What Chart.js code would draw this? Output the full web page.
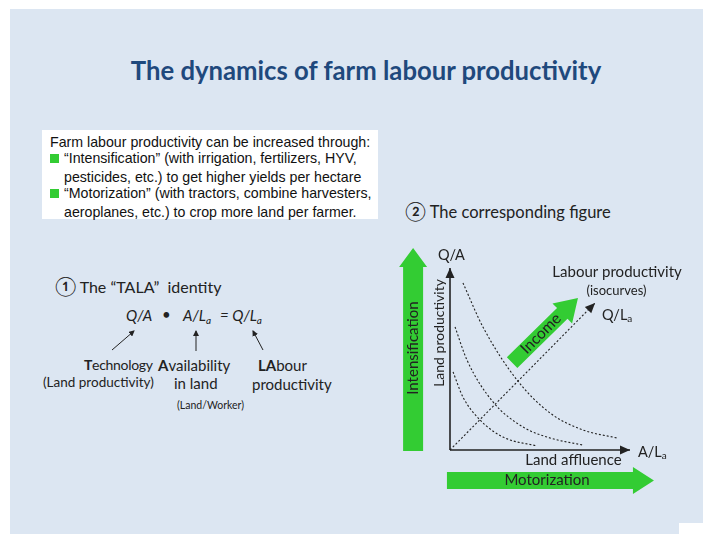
<!DOCTYPE html>
<html>
<head>
<meta charset="utf-8">
<script src="https://cdn.jsdelivr.net/npm/chart.js@4.4.1/dist/chart.umd.min.js"></script>
<style>
  body { margin: 0; width: 703px; height: 534px; position: relative; background: #fff; overflow: hidden; font-family: Lato, sans-serif; color: #222; }
  #slide { position: absolute; left: 10px; top: 9px; width: 693px; height: 525px; background: #dce6f2; }
  #notch { position: absolute; left: 679px; top: 523px; width: 24px; height: 11px; background: #fff; }
  .t { position: absolute; white-space: nowrap; }
  #title { left: 66px; width: 600px; top: 55px; text-align: center; font-size: 25.7px; line-height: 30px; font-weight: bold; color: #1f497d; }
  #box { position: absolute; left: 42px; top: 130px; width: 336px; height: 89px; background: #fff; font-family: "Liberation Sans", Arial, sans-serif; font-size: 14.2px; color: #111; }
  #box .t { line-height: 16px; }
  .sq { position: absolute; width: 9px; height: 9px; background: #33cc33; }
  .tala { font-size: 15px; line-height: 18px; }
  .small { font-size: 11px; line-height: 14px; }
  .f { font-style: italic; font-size: 15px; line-height: 18px; }
  sub { font-size: 10px; vertical-align: -3px; line-height: 0; }
  #wrap { position: absolute; left: 385px; top: 240px; width: 318px; height: 265px; }
  #marks { position: absolute; left: 0; top: 0; }
</style>
</head>
<body>
<div id="slide"></div>
<div id="notch"></div>
<div class="t" id="title">The dynamics of farm labour productivity</div>

<div id="box">
  <div class="t" style="left:8px;top:4px">Farm labour productivity can be increased through:</div>
  <div class="sq" style="left:8px;top:24px"></div>
  <div class="t" style="left:22px;top:20px">“Intensification” (with irrigation, fertilizers, HYV,</div>
  <div class="t" style="left:22px;top:39px">pesticides, etc.) to get higher yields per hectare</div>
  <div class="sq" style="left:8px;top:59px"></div>
  <div class="t" style="left:22px;top:55px">“Motorization” (with tractors, combine harvesters,</div>
  <div class="t" style="left:22px;top:74px">aeroplanes, etc.) to crop more land per farmer.</div>
</div>

<div class="t tala" style="left:55px;top:277px;font-size:16px"><span style="font-size:19px">①</span> The “TALA”&nbsp; identity</div>
<div class="t f" style="left:126px;top:306px">Q/A</div>
<div class="t f" style="left:162px;top:305px;font-style:normal">•</div>
<div class="t f" style="left:183px;top:306px">A/L<sub>a</sub></div>
<div class="t f" style="left:220px;top:306px">= Q/L<sub>a</sub></div>
<svg class="t" style="left:0;top:0" width="400" height="420">
  <defs>
    <marker id="ah" markerWidth="6" markerHeight="6" refX="5" refY="3" orient="auto">
      <path d="M0,0 L6,3 L0,6 Z" fill="#222"/>
    </marker>
  </defs>
  <line x1="112" y1="350" x2="134" y2="331" stroke="#222" stroke-width="1" marker-end="url(#ah)"/>
  <line x1="196" y1="351" x2="196" y2="331" stroke="#222" stroke-width="1" marker-end="url(#ah)"/>
  <line x1="263" y1="350" x2="253" y2="331" stroke="#222" stroke-width="1" marker-end="url(#ah)"/>
</svg>
<div class="t tala" style="left:84px;top:356px;font-size:14px;letter-spacing:-0.3px"><b>T</b>echnology</div>
<div class="t tala" style="left:158px;top:356px"><b>A</b>vailability</div>
<div class="t tala" style="left:258px;top:356px"><b>LA</b>bour</div>
<div class="t small" style="left:43px;top:375px;font-size:13.5px">(Land productivity)</div>
<div class="t tala" style="left:174px;top:374px">in land</div>
<div class="t tala" style="left:252px;top:375px">productivity</div>
<div class="t small" style="left:177px;top:398px;font-size:10.5px">(Land/Worker)</div>

<div class="t tala" style="left:405px;top:202px;font-size:16.5px"><span style="font-size:19px">②</span> The corresponding figure</div>

<div id="wrap"><canvas id="marks"></canvas></div>

<script>
// isocurves of labour productivity (x = A/La, y = Q/A, 0..100)
const isoLow  = [{x:1.7,y:42.9},{x:7.2,y:29.1},{x:16.7,y:16.5},{x:29.4,y:7.1},{x:48.3,y:2.2}];
const isoMid  = [{x:2.8,y:67.6},{x:9.4,y:49.5},{x:23.9,y:26.4},{x:40.6,y:12.6},{x:55.6,y:6.6},{x:73.9,y:2.7}];
const isoHigh = [{x:7.2,y:91.8},{x:18.3,y:67.6},{x:37.2,y:38.5},{x:55.6,y:20.3},{x:73.9,y:11.0},{x:92.8,y:6.6}];
// Q/La ray and the two axes
const rayQLa = [{x:0,y:0},{x:80.6,y:80.8}];
const axisX  = [{x:0,y:0},{x:100,y:0}];
const axisY  = [{x:0,y:0},{x:0,y:100}];

const ink = "#222";
const green = "#33cc33";

function arrow(ctx, x0, y0, x1, y1, body, head, headLen) {
  const dx = x1 - x0, dy = y1 - y0;
  const len = Math.hypot(dx, dy);
  const ux = dx / len, uy = dy / len;
  const nx = -uy, ny = ux;
  const bx = x1 - ux * headLen, by = y1 - uy * headLen;
  ctx.beginPath();
  ctx.moveTo(x0 + nx * body, y0 + ny * body);
  ctx.lineTo(bx + nx * body, by + ny * body);
  ctx.lineTo(bx + nx * head, by + ny * head);
  ctx.lineTo(x1, y1);
  ctx.lineTo(bx - nx * head, by - ny * head);
  ctx.lineTo(bx - nx * body, by - ny * body);
  ctx.lineTo(x0 - nx * body, y0 - ny * body);
  ctx.closePath();
  ctx.fill();
}

function tip(ctx, x0, y0, x1, y1, len, half) {
  const d = Math.hypot(x1 - x0, y1 - y0);
  const ux = (x1 - x0) / d, uy = (y1 - y0) / d;
  ctx.beginPath();
  ctx.moveTo(x1, y1);
  ctx.lineTo(x1 - ux * len - uy * half, y1 - uy * len + ux * half);
  ctx.lineTo(x1 - ux * len + uy * half, y1 - uy * len - ux * half);
  ctx.closePath();
  ctx.fill();
}

function subText(ctx, main, sub, x, y, size) {
  ctx.font = size + "px Lato";
  ctx.textAlign = "left";
  ctx.textBaseline = "middle";
  ctx.fillText(main, x, y);
  const w = ctx.measureText(main).width;
  ctx.font = Math.round(size * 0.7) + "px Lato";
  ctx.fillText(sub, x + w, y + 4);
}

function label(ctx, text, x, y, size, rot) {
  ctx.save();
  ctx.translate(x, y);
  ctx.rotate(rot || 0);
  ctx.font = size + "px Lato";
  ctx.textAlign = "center";
  ctx.textBaseline = "middle";
  ctx.fillText(text, 0, 0);
  ctx.restore();
}

const decor = {
  id: "decor",
  beforeDatasetsDraw(chart) {
    const ctx = chart.ctx, sx = chart.scales.x, sy = chart.scales.y;
    ctx.save();
    ctx.fillStyle = green;
    // Intensification (vertical), Motorization (horizontal), Income (diagonal)
    arrow(ctx, sx.getPixelForValue(-20.5), sy.getPixelForValue(-0.5),
               sx.getPixelForValue(-20.5), sy.getPixelForValue(111), 10, 14, 19);
    arrow(ctx, sx.getPixelForValue(-1.7), sy.getPixelForValue(-16.7),
               sx.getPixelForValue(113.3), sy.getPixelForValue(-16.7), 8.5, 13.5, 21);
    arrow(ctx, sx.getPixelForValue(34.5), sy.getPixelForValue(48), 
               sx.getPixelForValue(71.1), sy.getPixelForValue(83.5), 7.5, 14, 22);
    ctx.restore();
  },
  afterDatasetsDraw(chart) {
    const ctx = chart.ctx, sx = chart.scales.x, sy = chart.scales.y;
    const X = v => sx.getPixelForValue(v), Y = v => sy.getPixelForValue(v);
    ctx.save();
    ctx.fillStyle = ink;
    tip(ctx, X(0), Y(0), X(0), Y(100), 10, 4.5);
    tip(ctx, X(0), Y(0), X(100), Y(0), 10, 4.5);
    tip(ctx, X(rayQLa[0].x), Y(rayQLa[0].y), X(rayQLa[1].x), Y(rayQLa[1].y), 10, 4.5);

    ctx.font = "14.5px Lato";
    ctx.textAlign = "left";
    ctx.textBaseline = "middle";
    ctx.fillText("Q/A", X(-6.7), Y(107));
    subText(ctx, "Q/L", "a", X(84.4), Y(74.2), 14.5);
    subText(ctx, "A/L", "a", X(104.4), Y(-1.1), 14.5);
    label(ctx, "Land productivity", X(-5.8), Y(64.3), 14, -Math.PI / 2);
    label(ctx, "Intensification", X(-20.5), Y(56), 15, -Math.PI / 2);
    label(ctx, "Labour productivity", X(92.8), Y(97.8), 15);
    label(ctx, "(isocurves)", X(92.5), Y(87.4), 13);
    label(ctx, "Land affluence", X(68.6), Y(-5.5), 15);
    label(ctx, "Motorization", X(53.9), Y(-16.5), 15);
    label(ctx, "Income", X(50.5), Y(64), 15.5, -Math.PI / 4);
    ctx.restore();
  }
};

function line(data, dashed, width, tension) {
  return {
    data: data, showLine: true, pointRadius: 0, borderColor: ink,
    borderWidth: width, borderDash: dashed ? [2, 2] : [], tension: tension,
    cubicInterpolationMode: tension ? "monotone" : "default", clip: false
  };
}

function draw() {
  new Chart(document.getElementById("marks"), {
    type: "scatter",
    data: {
      datasets: [
        line(isoLow, true, 1.1, 0.4),
        line(isoMid, true, 1.1, 0.4),
        line(isoHigh, true, 1.1, 0.4),
        line(rayQLa, true, 1.1, 0),
        line(axisX, false, 1.6, 0),
        line(axisY, false, 1.6, 0)
      ]
    },
    options: {
      responsive: true,
      maintainAspectRatio: false,
      animation: false,
      events: [],
      layout: { padding: { left: 65, right: 73, top: 28, bottom: 55 } },
      scales: {
        x: { type: "linear", min: 0, max: 100, display: false },
        y: { type: "linear", min: 0, max: 100, display: false }
      },
      plugins: { legend: { display: false }, tooltip: { enabled: false } }
    },
    plugins: [decor]
  });
}

document.fonts.load("14px Lato").then(draw, draw);
</script>
</body>
</html>
